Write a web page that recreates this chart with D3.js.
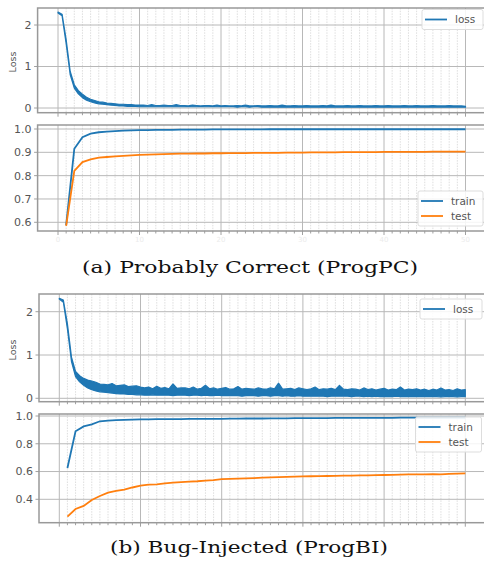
<!DOCTYPE html>
<html>
<head>
<meta charset="utf-8">
<script src="https://cdnjs.cloudflare.com/ajax/libs/d3/7.8.5/d3.min.js"></script>
<style>
body { margin: 0; background: #fff; }
</style>
</head>
<body>
<div class="graphic"></div>
<script>
// accuracy is logged once per epoch, the loss band every half epoch (low / high of the batches)
var epochs = d3.range(1, 51);
var lossStep = 0.5;

var lossAHi = [2.31,2.26,1.65,0.88,0.56,0.42,0.33,0.26,0.21,0.18,0.15,0.14,0.12,0.11,0.10,0.09,0.09,0.08,0.08,0.07,0.07,
  0.07,0.06,0.08,0.06,0.06,0.07,0.06,0.06,0.08,0.06,
  0.06,0.05,0.07,0.06,0.05,0.06,0.06,0.05,0.07,0.05,
  0.06,0.05,0.05,0.06,0.05,0.07,0.05,0.05,0.06,0.05,
  0.05,0.06,0.05,0.05,0.07,0.05,0.05,0.06,0.05,0.05,
  0.06,0.05,0.05,0.05,0.06,0.05,0.07,0.05,0.05,0.05,
  0.06,0.05,0.05,0.06,0.05,0.05,0.05,0.06,0.05,0.05,
  0.06,0.05,0.05,0.05,0.06,0.05,0.05,0.06,0.05,0.05,
  0.05,0.06,0.05,0.05,0.05,0.06,0.05,0.05,0.05,0.04];
var lossALo = [2.29,2.22,1.55,0.80,0.48,0.34,0.25,0.19,0.15,0.12,0.10,0.09,0.08,0.07,0.06,0.05,0.05,0.04,0.04,0.04,0.03,
  0.03,0.03,0.03,0.03,0.03,0.03,0.03,0.03,0.03,0.03,
  0.03,0.03,0.03,0.03,0.03,0.03,0.03,0.03,0.03,0.03,
  0.03,0.03,0.03,0.02,0.03,0.03,0.02,0.03,0.03,0.02,
  0.02,0.02,0.02,0.02,0.02,0.02,0.02,0.02,0.02,0.02,
  0.02,0.02,0.02,0.02,0.02,0.02,0.02,0.02,0.02,0.02,
  0.02,0.02,0.02,0.02,0.02,0.02,0.02,0.02,0.02,0.02,
  0.02,0.02,0.02,0.02,0.02,0.02,0.02,0.02,0.02,0.02,
  0.02,0.02,0.02,0.02,0.02,0.02,0.02,0.02,0.02,0.02];

var lossBHi = [2.31,2.27,1.72,0.95,0.62,0.52,0.46,0.42,0.40,0.37,0.33,0.32,0.31,0.34,0.29,0.30,0.31,0.27,0.28,0.29,0.26,
  0.24,0.26,0.22,0.28,0.23,0.25,0.22,0.33,0.23,0.24,
  0.24,0.22,0.26,0.21,0.23,0.30,0.22,0.24,0.21,0.23,
  0.25,0.21,0.22,0.27,0.21,0.23,0.22,0.21,0.24,0.22,
  0.21,0.24,0.22,0.35,0.21,0.22,0.23,0.20,0.24,0.22,
  0.20,0.22,0.26,0.20,0.22,0.21,0.23,0.20,0.30,0.21,
  0.20,0.22,0.21,0.19,0.24,0.20,0.22,0.19,0.21,0.23,
  0.19,0.21,0.20,0.26,0.19,0.21,0.20,0.22,0.19,0.21,
  0.18,0.21,0.19,0.24,0.19,0.20,0.18,0.22,0.19,0.20];
var lossBLo = [2.29,2.22,1.60,0.85,0.50,0.38,0.30,0.24,0.20,0.17,0.15,0.14,0.13,0.12,0.11,0.10,0.10,0.09,0.09,0.08,0.08,
  0.07,0.07,0.08,0.07,0.07,0.07,0.07,0.06,0.07,0.07,
  0.07,0.06,0.07,0.07,0.06,0.07,0.06,0.06,0.07,0.06,
  0.06,0.06,0.06,0.06,0.05,0.06,0.06,0.06,0.05,0.06,
  0.06,0.05,0.06,0.06,0.05,0.06,0.05,0.05,0.06,0.05,
  0.05,0.05,0.05,0.05,0.05,0.04,0.05,0.05,0.05,0.05,
  0.05,0.04,0.05,0.05,0.04,0.05,0.04,0.05,0.04,0.04,
  0.04,0.04,0.05,0.04,0.04,0.04,0.04,0.04,0.04,0.04,
  0.04,0.04,0.04,0.03,0.04,0.04,0.04,0.03,0.04,0.04];

var trainA = [0.588,0.915,0.965,0.980,0.986,0.989,0.991,0.993,0.994,0.995,
  0.995,0.996,0.996,0.996,0.997,0.997,0.997,0.997,0.998,0.998,
  0.998,0.998,0.998,0.998,0.998,0.999,0.999,0.999,0.999,0.999,
  0.999,0.999,0.999,0.999,0.999,0.999,0.999,0.999,0.999,0.999,
  0.999,0.999,0.999,0.999,0.999,0.999,0.999,0.999,0.999,0.999];
var testA = [0.585,0.820,0.858,0.870,0.877,0.880,0.883,0.885,0.887,0.889,
  0.890,0.891,0.892,0.893,0.894,0.894,0.895,0.895,0.896,0.896,
  0.897,0.897,0.897,0.898,0.898,0.898,0.898,0.899,0.899,0.899,
  0.900,0.900,0.900,0.900,0.901,0.901,0.901,0.901,0.901,0.902,
  0.902,0.902,0.902,0.902,0.902,0.903,0.903,0.903,0.903,0.903];

var trainB = [0.625,0.890,0.925,0.940,0.962,0.967,0.970,0.972,0.974,0.975,
  0.976,0.977,0.977,0.978,0.978,0.979,0.979,0.980,0.980,0.980,
  0.981,0.981,0.982,0.982,0.982,0.983,0.983,0.983,0.984,0.984,
  0.985,0.985,0.985,0.986,0.986,0.986,0.986,0.987,0.987,0.987,
  0.987,0.988,0.988,0.988,0.988,0.988,0.989,0.989,0.989,0.989];
var testB = [0.275,0.330,0.352,0.395,0.424,0.448,0.460,0.470,0.485,0.498,
  0.505,0.508,0.515,0.520,0.524,0.528,0.530,0.534,0.538,0.546,
  0.547,0.549,0.551,0.553,0.556,0.558,0.560,0.561,0.563,0.565,
  0.566,0.567,0.568,0.569,0.570,0.571,0.572,0.573,0.574,0.575,
  0.576,0.578,0.579,0.580,0.580,0.581,0.579,0.583,0.585,0.587];

var xMajor = [0, 10, 20, 30, 40, 50];
var lossTicks = [0, 1, 2];
var accTicksA = [0.6, 0.7, 0.8, 0.9, 1.0];
var accTicksB = [0.4, 0.6, 0.8, 1.0];
var captions = ["(a) Probably Correct (ProgPC)", "(b) Bug-Injected (ProgBI)"];

var blue = "#1f77b4", orange = "#ff7f0e";
var sans = "'DejaVu Sans', sans-serif";

var svg = d3.select(".graphic")
  .append("svg")
  .attr("width", 484)
  .attr("height", 577);

var clipId = 0;

// one matplotlib style axes: grid, ticks, frame; returns a clipped group for the lines
function drawAxes(box, xs, ys, yTicks, fmt, xLabels) {
  var g = svg.append("g");
  var minor = d3.range(0, 51).filter(function(d){ return d % 10 != 0; });

  g.selectAll(".minor").data(minor).enter().append("line")
    .attr("x1", function(d){ return xs(d); }).attr("x2", function(d){ return xs(d); })
    .attr("y1", box.top).attr("y2", box.bottom)
    .attr("stroke", "#d6d6d6").attr("stroke-width", 0.8)
    .attr("stroke-dasharray", "1.5,1.2");

  g.selectAll(".major").data(xMajor).enter().append("line")
    .attr("x1", function(d){ return xs(d); }).attr("x2", function(d){ return xs(d); })
    .attr("y1", box.top).attr("y2", box.bottom)
    .attr("stroke", "#b8b8b8").attr("stroke-width", 1);

  g.selectAll(".hgrid").data(yTicks).enter().append("line")
    .attr("x1", box.left).attr("x2", box.right)
    .attr("y1", function(d){ return ys(d); }).attr("y2", function(d){ return ys(d); })
    .attr("stroke", "#b8b8b8").attr("stroke-width", 1);

  // ticks under the frame
  g.selectAll(".xtick").data(d3.range(0, 51)).enter().append("line")
    .attr("x1", function(d){ return xs(d); }).attr("x2", function(d){ return xs(d); })
    .attr("y1", box.bottom).attr("y2", function(d){ return box.bottom + (d % 10 == 0 ? 4 : 2.5); })
    .attr("stroke", "#888").attr("stroke-width", 0.8);

  if (xLabels) {
    g.selectAll(".xlab").data(xMajor).enter().append("text")
      .attr("x", function(d){ return xs(d); })
      .attr("y", box.bottom + 11)
      .attr("text-anchor", "middle")
      .style("font-family", sans)
      .attr("font-size", "7px")
      .attr("fill", "#ebebeb")
      .text(function(d){ return d; });
  }

  g.selectAll(".ytick").data(yTicks).enter().append("line")
    .attr("x1", box.left - 3.5).attr("x2", box.left)
    .attr("y1", function(d){ return ys(d); }).attr("y2", function(d){ return ys(d); })
    .attr("stroke", "#888").attr("stroke-width", 0.8);

  g.selectAll(".ylab").data(yTicks).enter().append("text")
    .attr("x", box.left - 6)
    .attr("y", function(d){ return ys(d); })
    .attr("dy", "0.36em")
    .attr("text-anchor", "end")
    .style("font-family", sans)
    .attr("font-size", "11px")
    .attr("fill", "#555")
    .text(function(d){ return fmt(d); });

  clipId += 1;
  svg.append("clipPath").attr("id", "clip" + clipId)
    .append("rect")
    .attr("x", box.left).attr("y", box.top)
    .attr("width", box.right - box.left).attr("height", box.bottom - box.top);

  var plot = svg.append("g").attr("clip-path", "url(#clip" + clipId + ")");

  svg.append("rect")
    .attr("x", box.left).attr("y", box.top)
    .attr("width", box.right - box.left).attr("height", box.bottom - box.top)
    .attr("fill", "none").attr("stroke", "#999").attr("stroke-width", 1.5);

  return plot;
}

function drawLegend(x, y, w, items) {
  var h = items.length * 15 + 5;
  var g = svg.append("g").attr("transform", "translate(" + x + "," + y + ")");
  g.append("rect").attr("width", w).attr("height", h)
    .attr("rx", 2).attr("fill", "#fff").attr("fill-opacity", 0.85)
    .attr("stroke", "#ddd").attr("stroke-width", 1);
  items.forEach(function(it, i){
    var yy = 10 + i * 15;
    g.append("line").attr("x1", 3).attr("x2", 25).attr("y1", yy).attr("y2", yy)
      .attr("stroke", it.color).attr("stroke-width", 1.8);
    g.append("text").attr("x", 33).attr("y", yy).attr("dy", "0.35em")
      .style("font-family", sans)
      .attr("font-size", "10.5px").attr("fill", "#555").text(it.name);
  });
}

function yLabel(x, y, txt) {
  svg.append("text")
    .attr("transform", "translate(" + x + "," + y + ") rotate(-90)")
    .attr("text-anchor", "middle")
    .attr("dy", "0.35em")
    .style("font-family", sans)
    .attr("font-size", "9.5px")
    .attr("fill", "#555")
    .text(txt);
}

// noisy batch loss drawn as a band between the low and high values
function drawLoss(plot, xs, ys, lo, hi) {
  var band = d3.area()
    .x(function(d, i){ return xs(i * lossStep); })
    .y0(function(d, i){ return ys(lo[i]); })
    .y1(function(d){ return ys(d); });
  plot.append("path").datum(hi)
    .attr("d", band)
    .attr("fill", blue).attr("stroke", blue)
    .attr("stroke-width", 1.2).attr("stroke-linejoin", "round");
}

function drawAcc(plot, xs, ys, values, color) {
  var line = d3.line()
    .x(function(d, i){ return xs(epochs[i]); })
    .y(function(d){ return ys(d); });
  plot.append("path").datum(values)
    .attr("d", line)
    .attr("fill", "none").attr("stroke", color).attr("stroke-width", 1.8);
}

function caption(x, y, len, txt) {
  svg.append("text")
    .attr("x", x).attr("y", y)
    .attr("text-anchor", "middle")
    .style("font-family", "'DejaVu Serif', serif")
    .attr("font-size", "17px")
    .attr("fill", "#111")
    .attr("textLength", len).attr("lengthAdjust", "spacingAndGlyphs")
    .text(txt);
}

var f1 = d3.format(".1f"), f0 = d3.format("d");

// ---- (a) ----
var xA = d3.scaleLinear().domain([0, 50]).range([58, 465.5]);
var yLossA = d3.scaleLinear().domain([0, 2]).range([108, 25]);
var pLossA = drawAxes({left: 37.6, right: 486, top: 8, bottom: 112.7}, xA, yLossA, lossTicks, f0, false);
drawLoss(pLossA, xA, yLossA, lossALo, lossAHi);
drawLegend(422, 9.5, 61, [{name: "loss", color: blue}]);
yLabel(13, 62, "Loss");

var yAccA = d3.scaleLinear().domain([0.6, 1.0]).range([222.3, 129]);
var pAccA = drawAxes({left: 37.6, right: 486, top: 125, bottom: 231}, xA, yAccA, accTicksA, f1, true);
drawAcc(pAccA, xA, yAccA, trainA, blue);
drawAcc(pAccA, xA, yAccA, testA, orange);
drawLegend(418, 191, 65, [{name: "train", color: blue}, {name: "test", color: orange}]);

caption(250, 273, 336, captions[0]);

// ---- (b) ----
var xB = d3.scaleLinear().domain([0, 50]).range([59.3, 465.3]);
var yLossB = d3.scaleLinear().domain([0, 2]).range([398.3, 311.7]);
var pLossB = drawAxes({left: 39, right: 486, top: 294, bottom: 401.7}, xB, yLossB, lossTicks, f0, false);
drawLoss(pLossB, xB, yLossB, lossBLo, lossBHi);
drawLegend(420, 299, 62, [{name: "loss", color: blue}]);
yLabel(13, 350, "Loss");

var yAccB = d3.scaleLinear().domain([0.4, 1.0]).range([499.3, 416]);
var pAccB = drawAxes({left: 39, right: 486, top: 414, bottom: 522.7}, xB, yAccB, accTicksB, f1, false);
drawAcc(pAccB, xB, yAccB, trainB, blue);
drawAcc(pAccB, xB, yAccB, testB, orange);
drawLegend(415.5, 417, 66, [{name: "train", color: blue}, {name: "test", color: orange}]);

caption(249, 553, 278, captions[1]);
</script>
</body>
</html>
